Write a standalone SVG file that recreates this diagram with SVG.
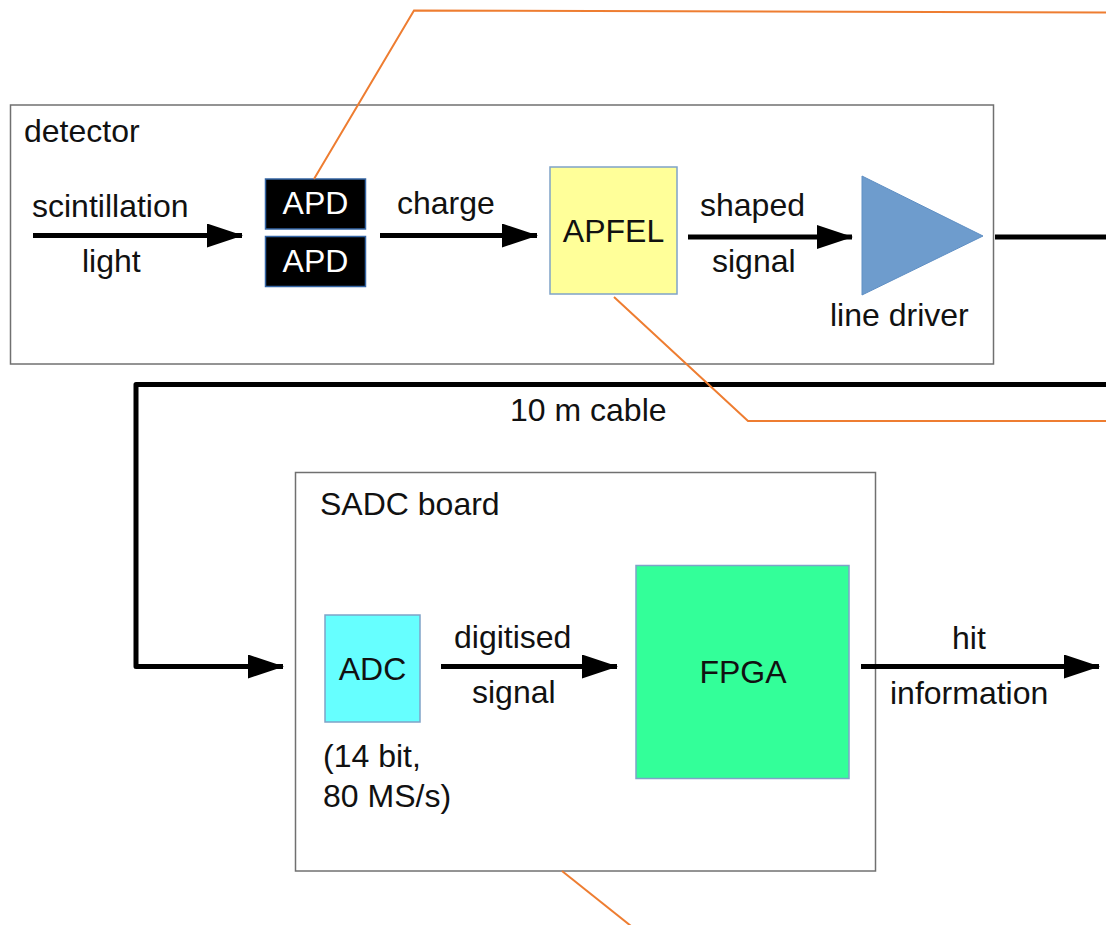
<svg xmlns="http://www.w3.org/2000/svg" width="1106" height="925" viewBox="0 0 1106 925">
<defs>
<style>
text{font-family:"Liberation Sans",Arial,sans-serif;font-size:32px;fill:#111}
.box{fill:#fff;stroke:#707070;stroke-width:1.5}
.wire{fill:none;stroke:#000;stroke-width:5}
.callout{fill:none;stroke:#ee7d31;stroke-width:2}
.blk{stroke:#7fa3c8;stroke-width:1.5}
</style>
<marker id="ah" markerUnits="userSpaceOnUse" markerWidth="36" markerHeight="24" refX="35" refY="12" orient="auto">
<path d="M0,0 L36,12 L0,24 Z" fill="#000"/>
</marker>
</defs>
<rect width="1106" height="925" fill="#fff"/>

<g id="detector">
<rect class="box" x="10.5" y="105" width="983" height="259"/>
<text x="24" y="142">detector</text>
</g>

<g id="apd1">
<rect x="265.5" y="179" width="100" height="50" fill="#000" stroke="#3465a4" stroke-width="1.5"/>
<text x="315.5" y="214" text-anchor="middle" style="fill:#fff">APD</text>
</g>
<g id="apd2">
<rect x="265.5" y="236.5" width="100" height="50" fill="#000" stroke="#3465a4" stroke-width="1.5"/>
<text x="315.5" y="272" text-anchor="middle" style="fill:#fff">APD</text>
</g>

<g id="apfel">
<rect class="blk" x="550" y="167" width="127" height="127" fill="#ffff99"/>
<text x="613.5" y="242" text-anchor="middle">APFEL</text>
</g>

<g id="line-driver">
<polygon points="862,176 862,295 983,236" fill="#6e9ccd" stroke="#5f8fc4" stroke-width="1"/>
<text x="830" y="326">line driver</text>
</g>

<g id="sadc">
<rect class="box" x="295.5" y="472.5" width="580" height="398.5"/>
<text x="320" y="515">SADC board</text>
</g>

<g id="adc">
<rect class="blk" x="325" y="615" width="95" height="107" fill="#66ffff"/>
<text x="372.5" y="680" text-anchor="middle">ADC</text>
<text x="323" y="767">(14 bit,</text>
<text x="323" y="807">80 MS/s)</text>
</g>

<g id="fpga">
<rect class="blk" x="636" y="565.5" width="213" height="213" fill="#33ff99"/>
<text x="743" y="683" text-anchor="middle">FPGA</text>
</g>

<g id="connectors">
<path class="wire" d="M33,235.5 H242" marker-end="url(#ah)"/>
<text x="32" y="217">scintillation</text>
<text x="82" y="272">light</text>

<path class="wire" d="M380,235.5 H537" marker-end="url(#ah)"/>
<text x="397" y="214">charge</text>

<path class="wire" d="M688,237 H852" marker-end="url(#ah)"/>
<text x="700" y="216">shaped</text>
<text x="712" y="272">signal</text>

<path class="wire" d="M995,237 H1106"/>

<path class="wire" d="M1106,384.5 H136 V666.5 H283" marker-end="url(#ah)" stroke-linejoin="round"/>
<text x="510" y="421">10 m cable</text>

<path class="wire" d="M441,666.5 H617" marker-end="url(#ah)"/>
<text x="454" y="648">digitised</text>
<text x="472" y="703">signal</text>

<path class="wire" d="M861,666.5 H1099" marker-end="url(#ah)"/>
<text x="952" y="649">hit</text>
<text x="890" y="704">information</text>

<path class="callout" d="M314,179 L414,10.5 L1106,12.5"/>
<path class="callout" d="M614,297 L748,421 H1106"/>
<path class="callout" d="M562,871 L631,926"/>
</g>
</svg>
